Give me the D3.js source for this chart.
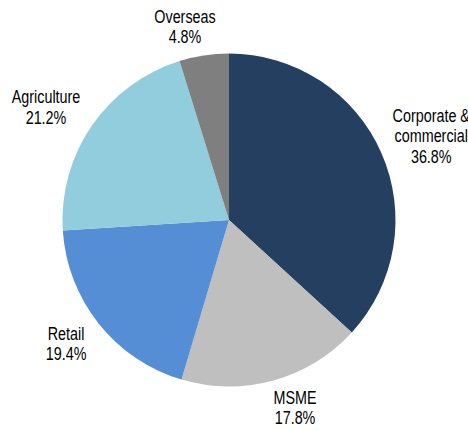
<!DOCTYPE html>
<html>
<head>
<meta charset="utf-8">
<script src="https://cdn.jsdelivr.net/npm/d3@7"></script>
<style>
	body { margin: 0; background: #fff; overflow: hidden; }
	svg text { font-family: "Liberation Sans", Arial, sans-serif; font-size: 17.5px; fill: #000; }
</style>
</head>
<body>
<svg id="chart" width="468" height="430"></svg>
<script>
// segments, clockwise from 12 o'clock
var segments = ["Corporate & commercial", "MSME", "Retail", "Agriculture", "Overseas"];
var shares = [36.8, 17.8, 19.4, 21.2, 4.8];
var colours = ["#243f60", "#bfbfbf", "#558ed5", "#92cddd", "#7f7f7f"];
// label lines as they are broken in the chart
var labelLines = [["Corporate &", "commercial", "36.8%"], ["MSME", "17.8%"], ["Retail", "19.4%"], ["Agriculture", "21.2%"], ["Overseas", "4.8%"]];

var svg = d3.select("#chart");
var cx = 229, cy = 220, radius = 166.5;

var pie = d3.pie().sort(null).value(function (d) { return d; });
var arcs = pie(shares);

var arc = d3.arc().innerRadius(0).outerRadius(radius);

var g = svg.append("g").attr("transform", "translate(" + cx + "," + cy + ")");

g.selectAll("path")
	.data(arcs)
	.enter()
	.append("path")
	.attr("d", arc)
	.attr("fill", function (d, i) { return colours[i]; });

// label anchor: mid-angle (nudged a little, in degrees) pushed out past the rim
var labelRadius = [219, 199, 204.5, 215, 198];
var labelNudge = [1.2, -3.9, 1.35, -2.9, -4.2];
var lineHeight = 20.5;

// the original uses a narrow face; squeeze the regular one to match
var narrow = 0.82;

var labels = g.selectAll("g.label")
	.data(arcs)
	.enter()
	.append("g")
	.attr("class", "label")
	.attr("transform", function (d, i) {
		var a = (d.startAngle + d.endAngle) / 2 + labelNudge[i] * Math.PI / 180;
		var r = labelRadius[i];
		return "translate(" + (Math.sin(a) * r) + "," + (-Math.cos(a) * r) + ")";
	});

labels.each(function (d, i) {
	var lines = labelLines[i];
	var top = -(lines.length - 1) * lineHeight / 2 + 6.3;
	var t = d3.select(this).append("text")
		.attr("text-anchor", "middle")
		.attr("transform", "scale(" + narrow + ",1)");
	lines.forEach(function (line, k) {
		t.append("tspan").attr("x", 0).attr("y", top + k * lineHeight).text(line);
	});
});
</script>
</body>
</html>
